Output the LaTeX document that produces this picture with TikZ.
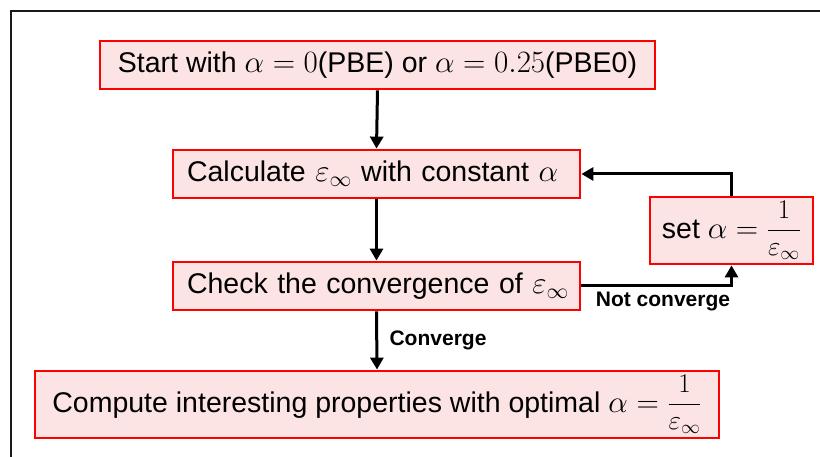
\RequirePackage{fix-cm}
\documentclass[tikz,border=0pt]{standalone}
\usepackage{amsmath}
\usepackage{fontspec}
\setmainfont{Liberation Sans}
\usetikzlibrary{arrows.meta}
\definecolor{boxfill}{HTML}{FCE4E4}
\definecolor{boxline}{HTML}{FF0000}
% formulas are set a little larger than the surrounding text
\newcommand{\mth}[1]{{\fontsize{31}{36}\selectfont$#1$}}
% the fraction 1/eps_inf, kept compact so it fits its box
\newcommand{\invEps}{\vcenter{\hbox{\fontsize{27}{30}\selectfont$\dfrac{1}{\varepsilon_\infty}$}}}
\tikzset{
  x=1pt, y=-1pt,
  flowbox/.style={draw=boxline, fill=boxfill, line width=2.8pt, inner xsep=12pt,
    inner ysep=0pt, font=\fontsize{28.5}{33}\selectfont, align=left},
  wideleft/.style={inner xsep=8pt, text width=391pt},
  flowarrow/.style={line width=3pt, -{Triangle[length=12pt,width=13pt]}},
  edgelabel/.style={font=\fontsize{21}{24}\bfseries\selectfont}
}
\begin{document}
\begin{tikzpicture}
\useasboundingbox (0,0) rectangle (820,457);
% outer frame
\draw[line width=1.8pt, black!90] (11,460) -- (11,11) -- (823,11);

% boxes
\node[flowbox, minimum width=555pt, minimum height=48pt] (start) at (377.5,65)
  {Start with \mth{\alpha=0}(PBE) or \mth{\alpha=0.25}(PBE0)};
\node[flowbox, wideleft, minimum width=407pt, minimum height=48pt] (calc) at (376.5,174)
  {\hspace*{6pt}Calculate \mth{\varepsilon_\infty} with constant \mth{\alpha}};
\node[flowbox, wideleft, minimum width=407pt, minimum height=48pt] (check) at (376.5,286)
  {\hspace*{6pt}Check the convergence of \mth{\varepsilon_\infty}};
\node[flowbox, minimum width=157pt, minimum height=67pt] (set) at (731.5,230.5)
  {set \mth{\alpha=\invEps}};
\node[flowbox, minimum width=684pt, minimum height=67pt] (final) at (377,404.5)
  {Compute interesting properties with optimal \mth{\alpha=\invEps}};

% connectors
\draw[flowarrow] (start.south) -- (calc.north);
\draw[flowarrow] (calc.south) -- (check.north);
\draw[flowarrow] (check.south) -- node[right, edgelabel, xshift=8pt] {Converge} (final.north);
\draw[flowarrow] (check.east) -| (set.south);
\draw[flowarrow] (set.north) |- (calc.east);

\node[edgelabel] (nc) at (663,302) {Not converge};
\end{tikzpicture}
\end{document}
